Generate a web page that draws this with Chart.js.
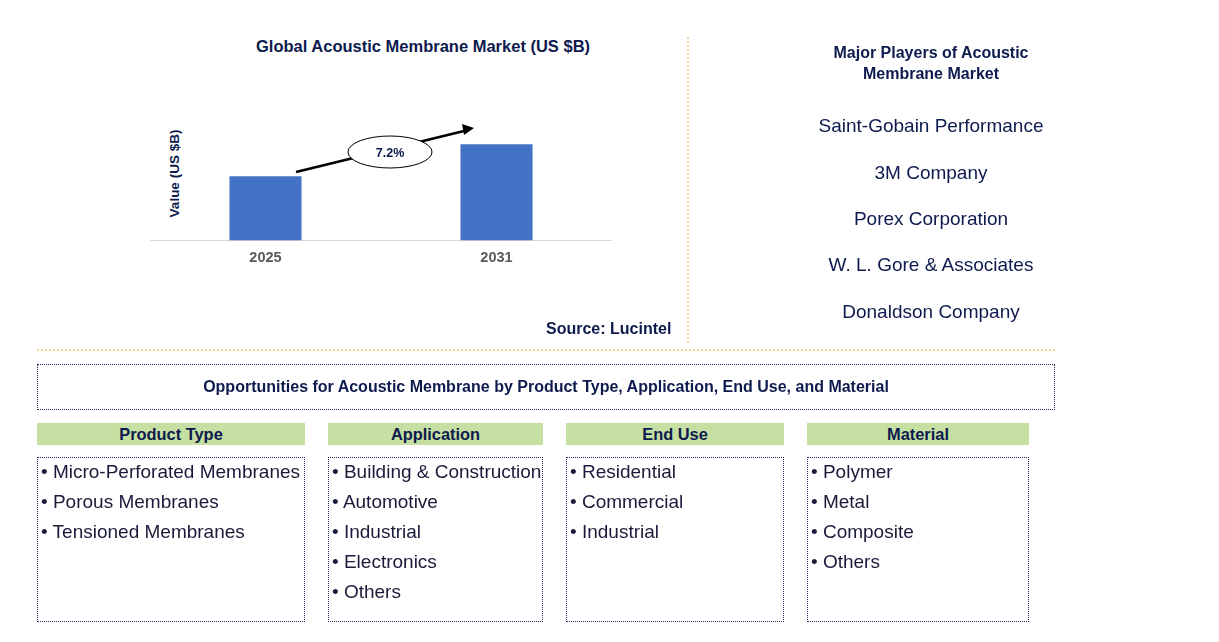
<!DOCTYPE html>
<html><head><meta charset="utf-8">
<script src="https://cdn.jsdelivr.net/npm/chart.js@4"></script>
<style>
body{margin:0;width:1219px;height:642px;background:#fff;font-family:"Liberation Sans",Arial,sans-serif;position:relative;overflow:hidden}
.a{position:absolute}
.t{color:#0d1a4d;font-weight:bold;font-size:16px}
.pl{color:#0d1a4d;font-size:19px;text-align:center;width:300px;left:781px}
.hd{background:#c6e0a4;color:#0d1a4d;font-weight:bold;font-size:16.4px;text-align:center;height:22px;line-height:22px}
.bx{border:1px dotted #1f2d5a;box-sizing:border-box;font-size:19px;color:#1a1a3a;line-height:30px}
.bx div{white-space:nowrap;padding-left:3px}
</style></head><body>
<div class="a t" style="left:256px;top:37px;font-size:16.5px">Global Acoustic Membrane Market (US $B)</div>
<div class="a" style="left:124px;top:166px;transform:rotate(-90deg);transform-origin:center;width:100px;font-size:13.5px;font-weight:bold;color:#0d1a4d;text-align:center">Value (US $B)</div>
<div class="a" style="left:150px;top:96px;width:462px;height:172px"><canvas id="c"></canvas></div>
<svg class="a" style="left:0;top:0" width="1219" height="642">
<line x1="296" y1="172" x2="464" y2="131" stroke="#000" stroke-width="2.5"/>
<polygon points="474,128 462,124 464,135" fill="#000"/>
<ellipse cx="390" cy="152" rx="42" ry="16" fill="#fff" stroke="#000" stroke-width="1"/>
<text x="390" y="157" text-anchor="middle" font-size="12.5" font-weight="bold" fill="#0d1a4d" font-family="Liberation Sans">7.2%</text>
<line x1="688" y1="37" x2="688" y2="345" stroke="#e8a93a" stroke-dasharray="2,2"/>
<line x1="37" y1="350" x2="1055" y2="350" stroke="#e8a93a" stroke-dasharray="2,2"/>
</svg>
<div class="a t" style="left:546px;top:320px">Source: Lucintel</div>
<div class="a t" style="left:781px;top:42px;width:300px;text-align:center;line-height:21px">Major Players of Acoustic<br>Membrane Market</div>
<div class="a pl" style="top:115px">Saint-Gobain Performance</div>
<div class="a pl" style="top:162px">3M Company</div>
<div class="a pl" style="top:208px">Porex Corporation</div>
<div class="a pl" style="top:254px">W. L. Gore &amp; Associates</div>
<div class="a pl" style="top:301px">Donaldson Company</div>
<div class="a t" style="left:37px;top:364px;width:1018px;height:46px;border:1px dotted #1f2d5a;box-sizing:border-box;text-align:center;line-height:44px">Opportunities for Acoustic Membrane by Product Type, Application, End Use, and Material</div>
<div id="cols"></div>
<script>
const categories=["2025","2031"];
const values=[2.0,3.0];
const headers=["Product Type","Application","End Use","Material"];
const col1=["Micro-Perforated Membranes","Porous Membranes","Tensioned Membranes"];
const col2=["Building & Construction","Automotive","Industrial","Electronics","Others"];
const col3=["Residential","Commercial","Industrial"];
const col4=["Polymer","Metal","Composite","Others"];
const lists=[col1,col2,col3,col4];
const geo=[[37,268],[328,215],[566,218],[807,222]];
let h="";
headers.forEach((hd,i)=>{const [x,w]=geo[i];
h+=`<div class="a hd" style="left:${x}px;top:423px;width:${w}px">${hd}</div>`;
h+=`<div class="a bx" style="left:${x}px;top:457px;width:${w}px;height:165px">${lists[i].map(s=>'<div style="position:relative;top:-1px">• '+s.replace('&','&amp;')+'</div>').join('')}</div>`;});
document.getElementById('cols').innerHTML=h;
new Chart(document.getElementById('c'),{type:'bar',
data:{labels:categories,datasets:[{data:values,backgroundColor:'#4472c4',barPercentage:0.312,categoryPercentage:1}]},
options:{responsive:true,maintainAspectRatio:false,animation:false,layout:{padding:0},
plugins:{legend:{display:false},tooltip:{enabled:false}},
scales:{y:{display:false,min:0,max:4.5},
x:{grid:{display:false},border:{color:'#d9d9d9'},ticks:{color:'#595959',font:{size:14.5,weight:'bold',family:'Liberation Sans'},padding:1}}}}});
</script>
</body></html>
